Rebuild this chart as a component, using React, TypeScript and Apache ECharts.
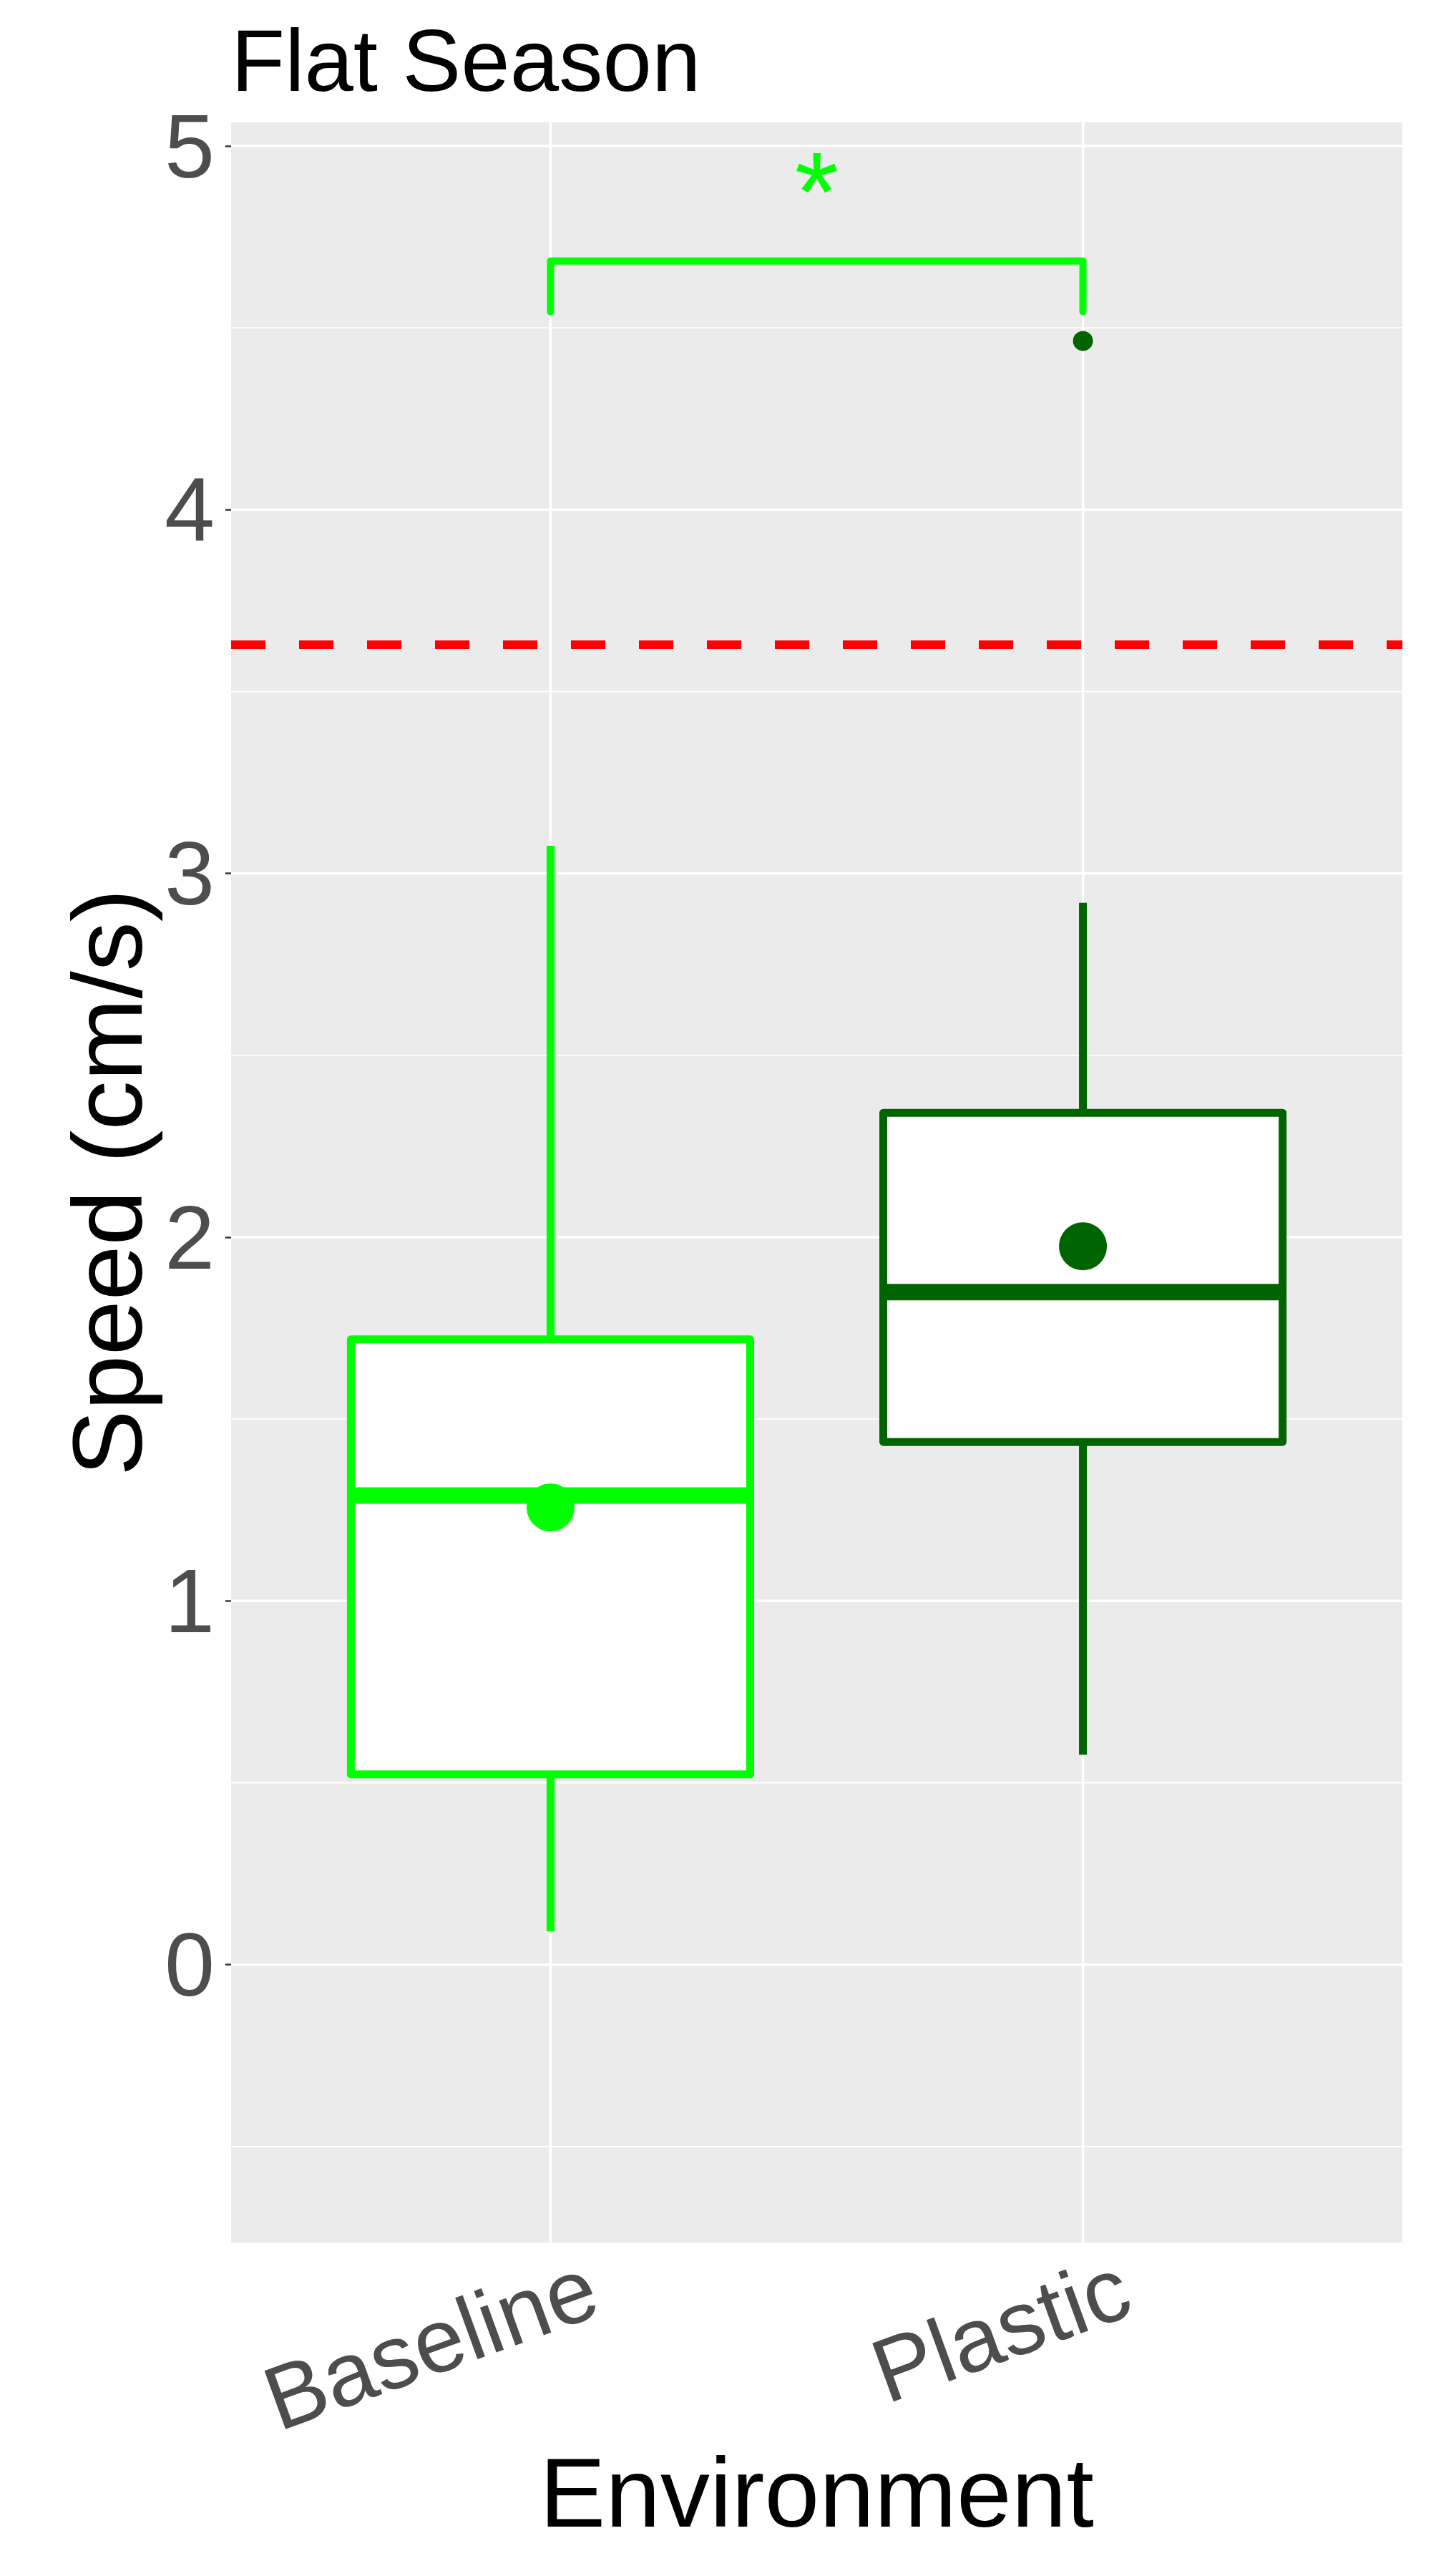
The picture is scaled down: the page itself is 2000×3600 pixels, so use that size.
import React, { useEffect, useRef } from "react";
import * as echarts from "echarts";

// ---- data ----
const CATEGORIES = ["Baseline", "Plastic"];
const CAT_POS = [1, 2];
const WHISKER_LOW = [0.092, 0.577];
const Q1 = [0.523, 1.437];
const MEDIAN = [1.29, 1.849];
const Q3 = [1.719, 2.342];
const WHISKER_HIGH = [3.076, 2.919];
const MEANS = [1.257, 1.975];
const OUTLIER_CAT = [2];
const OUTLIER_VAL = [4.464];
const COLORS = ["#00FF00", "#006400"];
const REF_LINE = 3.629;
const SIG_FROM = 1;
const SIG_TO = 2;
const SIG_TIP = 4.544;
const SIG_TOP = 4.684;
const SIG_LABEL = "*";
const SIG_COLOR = "#00FF00";
const Y_TICKS = [0, 1, 2, 3, 4, 5];
const Y_MINOR = [-0.5, 0.5, 1.5, 2.5, 3.5, 4.5];
const X_MIN = 0.4;
const X_MAX = 2.6;
const Y_MIN = -0.764;
const Y_MAX = 5.065;
const BOX_WIDTH = 0.75;

const FONT = "'Liberation Sans', Arial, Helvetica, sans-serif";
const LABEL_SHIFT = 0.08; // horizontal shift of rotated category labels (in axis units)

export default function App() {
  const ref = useRef<HTMLDivElement>(null);

  useEffect(() => {
    if (!ref.current) return;
    const chart = echarts.init(ref.current, undefined, { renderer: "svg" });

    const boxData = CAT_POS.map((x, i) => [
      x,
      WHISKER_LOW[i],
      Q1[i],
      MEDIAN[i],
      Q3[i],
      WHISKER_HIGH[i],
    ]);

    const option: any = {
      animation: false,
      backgroundColor: "#FFFFFF",
      title: {
        text: "Flat Season",
        left: 323,
        top: 23,
        padding: 0,
        textStyle: {
          fontSize: 123,
          fontWeight: "normal",
          color: "#000000",
          fontFamily: FONT,
        },
      },
      grid: {
        left: 323,
        right: 40,
        top: 171,
        bottom: 466,
        show: true,
        backgroundColor: "#EBEBEB",
        borderWidth: 0,
        containLabel: false,
      },
      xAxis: [
        {
          type: "value",
          min: X_MIN,
          max: X_MAX,
          position: "bottom",
          axisLine: { show: false },
          splitLine: { show: false },
          axisTick: {
            show: true,
            customValues: CAT_POS,
            length: 8,
            lineStyle: { color: "#333333", width: 2.5 },
          },
          axisLabel: { show: false },
          name: "Environment",
          nameLocation: "middle",
          nameGap: 280,
          nameTextStyle: { fontSize: 138, color: "#000000", fontFamily: FONT },
        },
        {
          type: "value",
          min: X_MIN - LABEL_SHIFT,
          max: X_MAX - LABEL_SHIFT,
          position: "bottom",
          axisLine: { show: false },
          splitLine: { show: false },
          axisTick: { show: false },
          axisLabel: {
            show: true,
            customValues: CAT_POS,
            rotate: 20,
            margin: 58,
            fontSize: 126,
            color: "#4D4D4D",
            fontFamily: FONT,
            formatter: (v: number) => {
              const idx = CAT_POS.indexOf(v);
              return idx >= 0 ? CATEGORIES[idx] : "";
            },
          },
        },
      ],
      yAxis: {
        type: "value",
        min: Y_MIN,
        max: Y_MAX,
        axisLine: { show: false },
        splitLine: { show: false },
        axisTick: {
          show: true,
          customValues: Y_TICKS,
          length: 8,
          lineStyle: { color: "#333333", width: 2.5 },
        },
        axisLabel: {
          show: true,
          customValues: Y_TICKS,
          margin: 23,
          fontSize: 126,
          color: "#4D4D4D",
          fontFamily: FONT,
          formatter: (v: number) => (Y_TICKS.indexOf(v) >= 0 ? String(v) : ""),
        },
        name: "Speed (cm/s)",
        nameLocation: "middle",
        nameGap: 99,
        nameTextStyle: { fontSize: 138, color: "#000000", fontFamily: FONT },
      },
      series: [
        {
          name: "minor-grid",
          type: "custom",
          xAxisIndex: 0,
          yAxisIndex: 0,
          z: 1,
          silent: true,
          data: Y_MINOR.map((v) => [X_MIN, v]),
          renderItem: (params: any, api: any) => {
            const y = api.value(1);
            const a = api.coord([X_MIN, y]);
            const b = api.coord([X_MAX, y]);
            return {
              type: "line",
              shape: { x1: a[0], y1: a[1], x2: b[0], y2: b[1] },
              style: { stroke: "#FFFFFF", lineWidth: 1.8 },
            };
          },
        },
        {
          name: "major-grid",
          type: "custom",
          xAxisIndex: 0,
          yAxisIndex: 0,
          z: 1,
          silent: true,
          data: Y_TICKS.map((v) => [X_MIN, v]),
          renderItem: (params: any, api: any) => {
            const y = api.value(1);
            const a = api.coord([X_MIN, y]);
            const b = api.coord([X_MAX, y]);
            return {
              type: "line",
              shape: { x1: a[0], y1: a[1], x2: b[0], y2: b[1] },
              style: { stroke: "#FFFFFF", lineWidth: 3.5 },
            };
          },
        },
        {
          name: "vertical-grid",
          type: "custom",
          xAxisIndex: 0,
          yAxisIndex: 0,
          z: 1,
          silent: true,
          data: CAT_POS.map((x) => [x, Y_MIN]),
          renderItem: (params: any, api: any) => {
            const x = api.value(0);
            const a = api.coord([x, Y_MIN]);
            const b = api.coord([x, Y_MAX]);
            return {
              type: "line",
              shape: { x1: a[0], y1: a[1], x2: b[0], y2: b[1] },
              style: { stroke: "#FFFFFF", lineWidth: 3.5 },
            };
          },
          markLine: {
            silent: true,
            symbol: ["none", "none"],
            label: { show: false },
            lineStyle: { color: "#FF0000", width: 12, type: [48, 47], cap: "butt", opacity: 1 },
            data: [{ yAxis: REF_LINE }],
            z: 2,
          },
        },
        {
          name: "boxes",
          type: "custom",
          xAxisIndex: 0,
          yAxisIndex: 0,
          z: 3,
          data: boxData,
          renderItem: (params: any, api: any) => {
            const i = params.dataIndex;
            const x = api.value(0);
            const lo = api.value(1);
            const q1 = api.value(2);
            const med = api.value(3);
            const q3 = api.value(4);
            const hi = api.value(5);
            const c = COLORS[i];
            const pLo = api.coord([x, lo]);
            const pQ1 = api.coord([x, q1]);
            const pQ3 = api.coord([x, q3]);
            const pHi = api.coord([x, hi]);
            const tl = api.coord([x - BOX_WIDTH / 2, q3]);
            const br = api.coord([x + BOX_WIDTH / 2, q1]);
            const mL = api.coord([x - BOX_WIDTH / 2, med]);
            const mR = api.coord([x + BOX_WIDTH / 2, med]);
            return {
              type: "group",
              children: [
                {
                  type: "line",
                  shape: { x1: pHi[0], y1: pHi[1], x2: pQ3[0], y2: pQ3[1] },
                  style: { stroke: c, lineWidth: 11 },
                },
                {
                  type: "line",
                  shape: { x1: pQ1[0], y1: pQ1[1], x2: pLo[0], y2: pLo[1] },
                  style: { stroke: c, lineWidth: 11 },
                },
                {
                  type: "rect",
                  shape: {
                    x: tl[0],
                    y: tl[1],
                    width: br[0] - tl[0],
                    height: br[1] - tl[1],
                  },
                  style: { fill: "#FFFFFF", stroke: c, lineWidth: 11, lineJoin: "round" },
                },
                {
                  type: "line",
                  shape: { x1: mL[0], y1: mL[1], x2: mR[0], y2: mR[1] },
                  style: { stroke: c, lineWidth: 23 },
                },
              ],
            };
          },
        },
        {
          name: "outliers",
          type: "scatter",
          xAxisIndex: 0,
          yAxisIndex: 0,
          z: 4,
          symbol: "circle",
          symbolSize: 28,
          itemStyle: { opacity: 1 },
          data: OUTLIER_CAT.map((x, i) => ({
            value: [x, OUTLIER_VAL[i]],
            itemStyle: { color: COLORS[CAT_POS.indexOf(x)], opacity: 1 },
          })),
        },
        {
          name: "means",
          type: "scatter",
          xAxisIndex: 0,
          yAxisIndex: 0,
          z: 5,
          symbol: "circle",
          symbolSize: 67,
          itemStyle: { opacity: 1 },
          data: CAT_POS.map((x, i) => ({
            value: [x, MEANS[i]],
            itemStyle: { color: COLORS[i], opacity: 1 },
          })),
        },
        {
          name: "significance",
          type: "custom",
          xAxisIndex: 0,
          yAxisIndex: 0,
          z: 6,
          data: [[SIG_FROM, SIG_TIP, SIG_TO, SIG_TOP]],
          renderItem: (params: any, api: any) => {
            const x1 = api.value(0);
            const tip = api.value(1);
            const x2 = api.value(2);
            const top = api.value(3);
            const a = api.coord([x1, tip]);
            const b = api.coord([x1, top]);
            const c = api.coord([x2, top]);
            const d = api.coord([x2, tip]);
            const mid = api.coord([(x1 + x2) / 2, top]);
            return {
              type: "group",
              children: [
                {
                  type: "polyline",
                  shape: { points: [a, b, c, d] },
                  style: {
                    stroke: SIG_COLOR,
                    lineWidth: 10,
                    lineCap: "round",
                    lineJoin: "round",
                    fill: null,
                  },
                },
                {
                  type: "text",
                  x: mid[0],
                  y: mid[1] - 97,
                  style: {
                    text: SIG_LABEL,
                    fill: SIG_COLOR,
                    fontSize: 158,
                    fontFamily: FONT,
                    align: "center",
                    verticalAlign: "middle",
                  },
                },
              ],
            };
          },
        },
      ],
    };

    chart.setOption(option);
    return () => chart.dispose();
  }, []);

  return (
    <div
      ref={ref}
      style={{
        position: "absolute",
        left: 0,
        top: 0,
        width: 2000,
        height: 3600,
        background: "#FFFFFF",
      }}
    />
  );
}
